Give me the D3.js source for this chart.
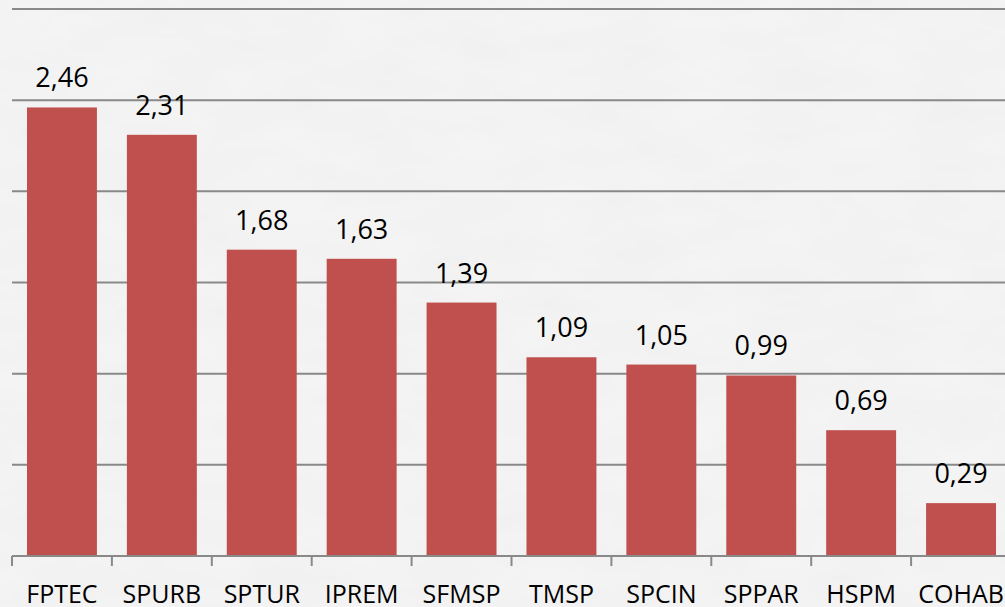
<!DOCTYPE html>
<html>
<head>
<meta charset="utf-8">
<title>Bar chart</title>
<script src="https://d3js.org/d3.v7.min.js"></script>
<style>
  html, body { margin: 0; padding: 0; background: #f4f4f4; }
  svg { display: block; }
  .label { font-family: "Open Sans", sans-serif; fill: #000; }
</style>
</head>
<body>
<svg width="1005" height="607"></svg>
<script>
// data
var categories = ["FPTEC", "SPURB", "SPTUR", "IPREM", "SFMSP", "TMSP", "SPCIN", "SPPAR", "HSPM", "COHAB"];
var values = [2.46, 2.31, 1.68, 1.63, 1.39, 1.09, 1.05, 0.99, 0.69, 0.29];
var gridTicks = [0.5, 1, 1.5, 2, 2.5, 3];

var svg = d3.select("svg"),
    W = +svg.attr("width"),
    H = +svg.attr("height"),
    leftX = 12, rightX = 1011,
    topY = 9, baseY = 556;

// paper-like background
var defs = svg.append("defs");
var f = defs.append("filter").attr("id", "paper").attr("x", 0).attr("y", 0).attr("width", "100%").attr("height", "100%");
f.append("feTurbulence").attr("type", "fractalNoise").attr("baseFrequency", "0.012 0.03").attr("numOctaves", 3).attr("seed", 4).attr("result", "noise");
f.append("feColorMatrix").attr("in", "noise").attr("type", "matrix")
  .attr("values", "0 0 0 0 0.55  0 0 0 0 0.55  0 0 0 0 0.55  0 0 0 0.10 0");
svg.append("rect").attr("width", W).attr("height", H).attr("fill", "#f5f5f5");
svg.append("rect").attr("width", W).attr("height", H).attr("filter", "url(#paper)");

var x = d3.scaleBand().domain(categories).range([leftX, rightX]).paddingInner(0.3).paddingOuter(0.15);
var y = d3.scaleLinear().domain([0, 3]).range([baseY, topY]);

var fmt = d3.formatLocale({decimal: ",", thousands: ".", grouping: [3], currency: ["", ""]}).format(".2f");

// gridlines
svg.append("g").selectAll("line").data(gridTicks).enter().append("line")
  .attr("x1", leftX).attr("x2", W)
  .attr("y1", function(d) { return y(d); }).attr("y2", function(d) { return y(d); })
  .attr("stroke", "#898989").attr("stroke-width", 2);

// bars
svg.append("g").selectAll("rect").data(values).enter().append("rect")
  .attr("x", function(d, i) { return x(categories[i]); })
  .attr("y", function(d) { return y(d); })
  .attr("width", x.bandwidth())
  .attr("height", function(d) { return baseY - y(d); })
  .attr("fill", "#c0504d");

// baseline + ticks between categories
svg.append("line").attr("x1", leftX).attr("x2", W).attr("y1", baseY).attr("y2", baseY)
  .attr("stroke", "#898989").attr("stroke-width", 2);
var step = x.step();
svg.append("g").selectAll("line").data(categories).enter().append("line")
  .attr("x1", function(d, i) { return leftX + i * step; })
  .attr("x2", function(d, i) { return leftX + i * step; })
  .attr("y1", baseY).attr("y2", baseY + 10)
  .attr("stroke", "#898989").attr("stroke-width", 2);

// value labels
svg.append("g").selectAll("text").data(values).enter().append("text")
  .attr("class", "label")
  .attr("x", function(d, i) { return x(categories[i]) + x.bandwidth() / 2; })
  .attr("y", function(d) { return y(d) - 20; })
  .attr("text-anchor", "middle")
  .attr("font-size", "27px")
  .text(function(d) { return fmt(d); });

// category labels
svg.append("g").selectAll("text").data(categories).enter().append("text")
  .attr("class", "label")
  .attr("x", function(d) { return x(d) + x.bandwidth() / 2; })
  .attr("y", 603)
  .attr("text-anchor", "middle")
  .attr("font-size", "25px")
  .text(function(d) { return d; });
</script>
</body>
</html>
